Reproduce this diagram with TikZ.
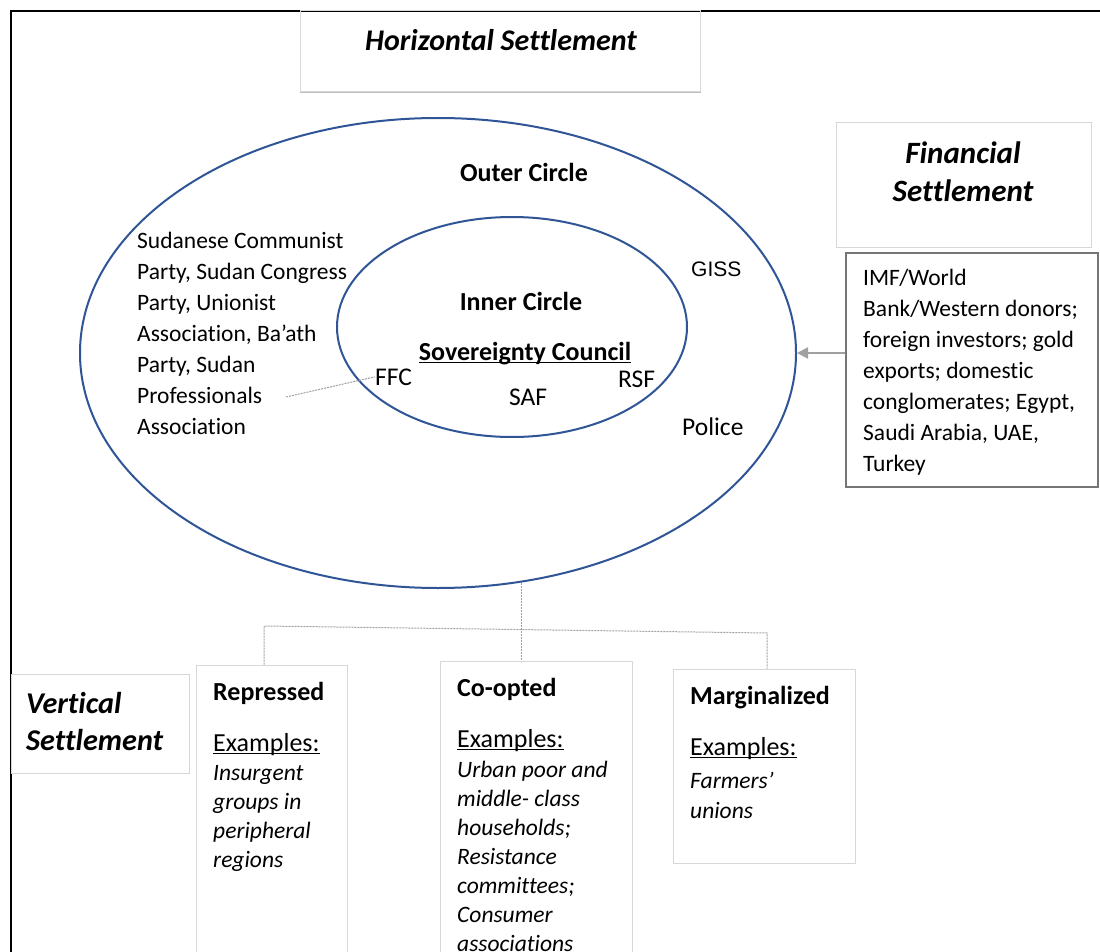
\documentclass[tikz,border=0pt]{standalone}
\usepackage{fontspec}
\setmainfont{Carlito}[Ligatures=NoCommon]
\newfontfamily\arialfont{Liberation Sans}
\usetikzlibrary{shapes.geometric,arrows.meta}
\definecolor{ellblue}{RGB}{47,85,151}
\definecolor{boxgray}{RGB}{215,215,215}
\definecolor{imfgray}{RGB}{118,118,118}
\definecolor{linegray}{RGB}{160,160,160}
\newcommand{\myul}[1]{\begingroup\setbox0\hbox{#1}\rlap{\rule[-2.8pt]{\wd0}{1.3pt}}\box0\endgroup}
\begin{document}
\begin{tikzpicture}[x=1pt,y=-1pt,
  body/.style={font=\fontsize{23.5}{31}\selectfont, inner sep=0, align=left},
  lbl/.style={font=\fontsize{25.5}{31}\selectfont, inner sep=0},
  exlist/.style={font=\fontsize{23.5}{29}\selectfont\itshape, inner sep=0, align=left},
  exhead/.style={font=\fontsize{26}{31}\selectfont, inner sep=0},
  bold/.style={font=\fontsize{26}{31}\selectfont\bfseries, inner sep=0},
  headline/.style={font=\fontsize{31}{37.5}\selectfont\bfseries\itshape, inner sep=0},
  gbox/.style={draw=boxgray, line width=1pt, inner sep=0, rectangle},
  ring/.style={draw=ellblue, line width=2pt, ellipse, inner sep=0},
  tree/.style={draw=linegray, line width=1pt, dash pattern=on 2pt off 1pt},
  feed/.style={draw=linegray, line width=2pt, -{Triangle[length=11pt,width=11pt]}}
]
\useasboundingbox (0,0) rectangle (1100,952);
\fill[white] (0,0) rectangle (1100,952);

% frame
\draw[line width=2pt, black] (1100,11) -- (11,11) -- (11,952);

% header boxes
\node[gbox, minimum width=400, minimum height=81] (hbox) at (500,51.5) {};
\draw[draw={rgb,255:red,190;green,190;blue,190}, line width=1.2pt] (hbox.south west) -- (hbox.south east);
\node[headline, anchor=base, font=\fontsize{30}{37}\selectfont\bfseries\itshape] (htxt) at (501,51) {Horizontal Settlement};

\node[gbox, minimum width=255, minimum height=124] (fbox) at (963.5,185) {};
\node[headline, anchor=base, align=center] (ftxt) at (963,201) {Financial\\Settlement};

\node[draw=imfgray, line width=1.5pt, inner sep=0, minimum width=252, minimum height=234] (imf) at (972,370) {};
\node[body, anchor=base west] (imftxt) at (863,471) {IMF/World\\Bank/Western donors;\\foreign investors; gold\\exports; domestic\\conglomerates; Egypt,\\Saudi Arabia, UAE,\\Turkey};

% circles
\node[ring, minimum width=716, minimum height=470] (outer) at (438,353) {};
\node[ring, minimum width=350, minimum height=220] (inner) at (512,327) {};

\node[bold, anchor=base] (outlbl) at (524,182) {Outer Circle};
\node[bold, anchor=base] (inlbl) at (521,310) {Inner Circle};
\node[bold, anchor=base] (sov) at (525,360) {\myul{Sovereignty Council}};
\node[lbl, anchor=base west] (ffc) at (375,385) {FFC};
\node[lbl, anchor=base west] (rsf) at (618,387) {RSF};
\node[lbl, anchor=base west] (saf) at (509,405) {SAF};
\node[lbl, anchor=base west, font=\fontsize{21}{25}\selectfont\arialfont] (giss) at (691,276) {GISS};
\node[lbl, anchor=base west] (police) at (682,435) {Police};

\node[body, anchor=base west] (parties) at (137,434) {Sudanese Communist\\Party, Sudan Congress\\Party, Unionist\\Association, Ba’ath\\Party, Sudan\\Professionals\\Association};

\coordinate (pa) at (286,397);
\draw[tree] (pa) -- (ffc.west);

% financial arrow
\draw[feed] (imf.west |- outer.east) -- (outer.east);

% vertical settlement
\node[gbox, minimum width=178, minimum height=99] (vbox) at (100,723.5) {};
\node[headline, anchor=base west, align=left, font=\fontsize{30.2}{37}\selectfont\bfseries\itshape] (vtxt) at (26,750) {Vertical\\Settlement};

\node[gbox, minimum width=151, minimum height=305] (rep) at (271.5,817.5) {};
\node[bold, anchor=base west] (reptitle) at (213,700) {Repressed};
\node[exhead, anchor=base west] (rephead) at (213,751) {\myul{Examples:}};
\node[exlist, anchor=base west, font=\fontsize{23.5}{28.7}\selectfont\itshape] (replist) at (213,867) {Insurgent\\groups in\\peripheral\\regions};

\node[gbox, minimum width=192, minimum height=309] (cop) at (536,815.5) {};
\node[bold, anchor=base west] (coptitle) at (457,696) {Co-opted};
\node[exhead, anchor=base west] (cophead) at (457,747) {\myul{Examples:}};
\node[exlist, anchor=base west] (coplist) at (457,951) {Urban poor and\\middle- class\\households;\\Resistance\\committees;\\Consumer\\associations};

\node[gbox, minimum width=182, minimum height=194] (mar) at (764,766) {};
\node[bold, anchor=base west] (martitle) at (690,704) {Marginalized};
\node[exhead, anchor=base west] (marhead) at (690,755) {\myul{Examples:}};
\node[exlist, anchor=base west, font=\fontsize{23.5}{30}\selectfont\itshape] (marlist) at (690,818) {Farmers’\\unions};

% tree connectors
\coordinate (jl) at (264,626);
\coordinate (jr) at (767,633);
\draw[tree] (outer.-70.5) -- (outer.-70.5 |- cop.north);
\draw[tree] (jl |- rep.north) -- (jl) -- (jr) -- (jr |- mar.north);
\end{tikzpicture}
\end{document}
